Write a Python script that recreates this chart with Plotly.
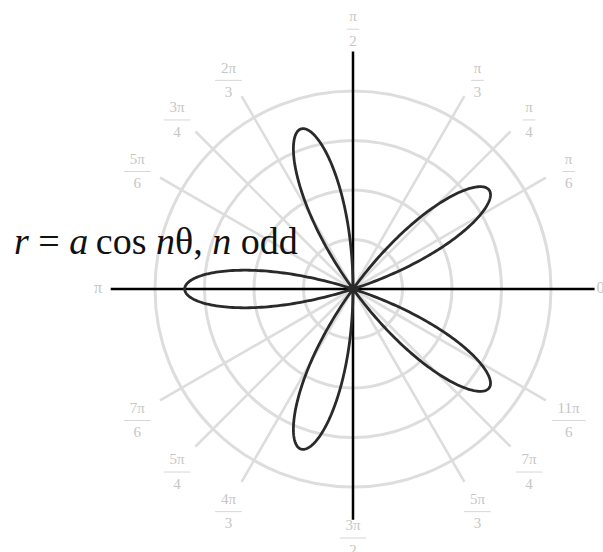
import numpy as np
import plotly.graph_objects as go

# ---- rose curve r = a·cos(nθ), n odd ----
a = 3.4
n = 5
first_petal_deg = 180

# ---- reference grid ----
ring_radii = [1, 2, 3, 4]
spoke_angles = [30, 45, 60, 120, 135, 150, 210, 225, 240, 300, 315, 330]
axis_angles = [0, 90, 180, 270]

# ---- angle labels ----
frac_angles = [30, 45, 60, 90, 120, 135, 150, 210, 225, 240, 270, 300, 315, 330]
frac_num = ["π", "π", "π", "π", "2π", "3π", "5π", "7π", "5π", "4π", "3π", "5π", "7π", "11π"]
frac_den = ["6", "4", "3", "2", "3", "4", "6", "6", "4", "3", "2", "3", "4", "6"]
plain_angles = [0, 180]
plain_labels = ["0", "π"]

# ---- layout constants ----
W, H = 603, 552
CX, CY = 353, 289          # pole position in pixels
PX = 49.5                  # pixels per radial unit
R_MAX = 4.9
R_PX = R_MAX * PX

SPOKE_LEN = 4.5
AXIS_LEN = [4.88, 4.80, 4.92, 4.66]
LABEL_R = 5.03
LABEL_R_SPECIAL = {90: 5.39, 270: 4.89}
LABEL_RING_DY = -7 / PX     # label ring centre sits a little below the pole
NUM_DY = 11.5 / PX
DEN_DY = 13.0 / PX
PLAIN_R = [5.0, 5.15]

GRID = "#dddddd"
LABEL = "#c6c6c6"
INK = "#2a2a2a"
SERIF = "Liberation Serif, Times New Roman, serif"

# curve samples; the negative half of each lobe retraces an existing petal
theta = np.linspace(0, 360, 1441)
r_curve = a * np.cos(n * np.radians(theta - first_petal_deg))
r_curve = np.where(r_curve > 0, r_curve, 0.0)

spoke_r, spoke_t = [], []
for ang in spoke_angles:
    spoke_r += [0, SPOKE_LEN, None]
    spoke_t += [ang, ang, None]

axis_r, axis_t = [], []
for ang, length in zip(axis_angles, AXIS_LEN):
    axis_r += [0, length, None]
    axis_t += [ang, ang, None]

# label anchor points in the cartesian overlay (same pixel scale as the polar plot)
frac_rad = np.radians(frac_angles)
frac_r = np.array([LABEL_R_SPECIAL.get(t, LABEL_R) for t in frac_angles])
bar_x = frac_r * np.cos(frac_rad)
bar_y = LABEL_RING_DY + frac_r * np.sin(frac_rad)
bar_w = [{1: 9, 2: 19, 3: 24}[max(len(nu), len(de))] for nu, de in zip(frac_num, frac_den)]

plain_rad = np.radians(plain_angles)
plain_x = np.array(PLAIN_R) * np.cos(plain_rad)
plain_y = np.array(PLAIN_R) * np.sin(plain_rad)

label_font = dict(family=SERIF, size=15, color=LABEL)

fig = go.Figure()

fig.add_trace(go.Scatterpolar(
    r=spoke_r, theta=spoke_t, mode="lines", connectgaps=False,
    line=dict(color=GRID, width=2.6), hoverinfo="skip", subplot="polar"))

fig.add_trace(go.Scatterpolar(
    r=axis_r, theta=axis_t, mode="lines", connectgaps=False,
    line=dict(color="#000000", width=2.5), hoverinfo="skip", subplot="polar"))

fig.add_trace(go.Scatterpolar(
    r=r_curve, theta=theta, mode="lines",
    line=dict(color=INK, width=2.8), hoverinfo="skip", subplot="polar"))

# angle labels
fig.add_trace(go.Scatter(
    x=plain_x, y=plain_y, mode="text", text=plain_labels,
    textposition="middle center", textfont=dict(family=SERIF, size=16, color=LABEL),
    cliponaxis=False, hoverinfo="skip"))

fig.add_trace(go.Scatter(
    x=bar_x, y=bar_y + NUM_DY, mode="text", text=frac_num,
    textposition="middle center", textfont=label_font,
    cliponaxis=False, hoverinfo="skip"))

fig.add_trace(go.Scatter(
    x=bar_x, y=bar_y, mode="markers",
    marker=dict(symbol="line-ew", size=bar_w, line=dict(width=1, color=LABEL)),
    cliponaxis=False, hoverinfo="skip"))

fig.add_trace(go.Scatter(
    x=bar_x, y=bar_y - DEN_DY, mode="text", text=frac_den,
    textposition="middle center", textfont=label_font,
    cliponaxis=False, hoverinfo="skip"))

fig.update_layout(
    width=W, height=H,
    margin=dict(l=0, r=0, t=0, b=0),
    paper_bgcolor="white",
    plot_bgcolor="white",
    showlegend=False,
    xaxis=dict(range=[-CX / PX, (W - CX) / PX], visible=False, fixedrange=True),
    yaxis=dict(range=[-(H - CY) / PX, CY / PX], visible=False, fixedrange=True),
    polar=dict(
        domain=dict(x=[(CX - R_PX) / W, (CX + R_PX) / W],
                    y=[(H - CY - R_PX) / H, (H - CY + R_PX) / H]),
        bgcolor="rgba(0,0,0,0)",
        radialaxis=dict(range=[0, R_MAX], tickvals=ring_radii, showticklabels=False,
                        ticks="", showline=False, gridcolor=GRID, gridwidth=2.8),
        angularaxis=dict(visible=False, showgrid=False),
    ),
    annotations=[dict(
        text="<i>r</i> = <i>a</i>\u2009cos <i>n</i>θ, <i>n</i> odd",
        x=12 / W, y=(H - 240.5) / H, xref="paper", yref="paper",
        xanchor="left", yanchor="middle", showarrow=False,
        font=dict(family=SERIF, size=38, color="#111111"),
    )],
)

fig.write_html("out.html")
